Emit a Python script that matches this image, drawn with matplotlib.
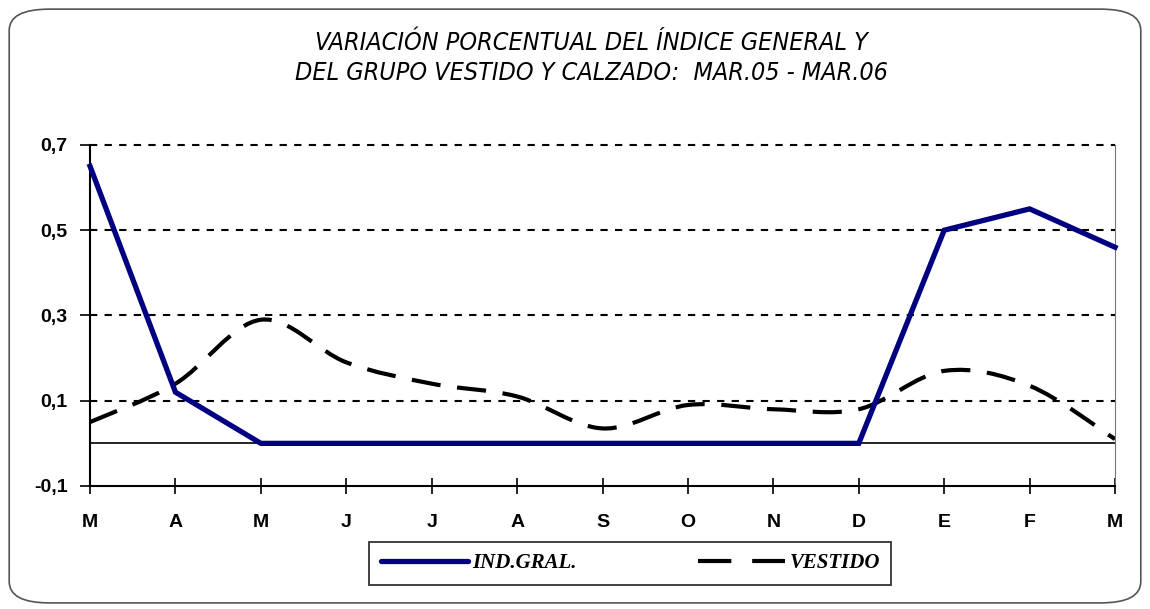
"""
Variación porcentual del índice general y del grupo vestido y calzado, mar.05 - mar.06.
"""

import numpy as np
import matplotlib

matplotlib.use("Agg")
import matplotlib.pyplot as plt
from matplotlib.path import Path
from matplotlib.patches import PathPatch, FancyBboxPatch
from matplotlib.lines import Line2D

months = ["M", "A", "M", "J", "J", "A", "S", "O", "N", "D", "E", "F", "M"]
ind_gral = [0.65, 0.12, 0.0, 0.0, 0.0, 0.0, 0.0, 0.0, 0.0, 0.0, 0.50, 0.55, 0.46]
vestido = [0.05, 0.14, 0.29, 0.19, 0.14, 0.11, 0.035, 0.09, 0.08, 0.08, 0.17, 0.135, 0.01]
y_ticks = [-0.1, 0.1, 0.3, 0.5, 0.7]
y_labels = ["-0,1", "0,1", "0,3", "0,5", "0,7"]

TITLE = "VARIACIÓN PORCENTUAL DEL ÍNDICE GENERAL Y\nDEL GRUPO VESTIDO Y CALZADO:  MAR.05 - MAR.06"
NAVY = "#000080"


def smooth_path(x, y):
    """Excel-style smoothed line as cubic Bezier segments."""
    pts = np.column_stack([x, y])
    verts = [pts[0]]
    codes = [Path.MOVETO]
    n = len(pts)
    for i in range(n - 1):
        p0 = pts[i - 1] if i > 0 else pts[i]
        p1, p2 = pts[i], pts[i + 1]
        p3 = pts[i + 2] if i + 2 < n else pts[i + 1]
        verts += [p1 + (p2 - p0) / 6, p2 - (p3 - p1) / 6, p2]
        codes += [Path.CURVE4] * 3
    return Path(verts, codes)


fig = plt.figure(figsize=(11.5, 6.09), dpi=100)
fig.patches.append(FancyBboxPatch((0.008, 0.01), 0.984, 0.975,
                                  boxstyle="round,pad=0,rounding_size=0.035",
                                  transform=fig.transFigure, fill=False,
                                  edgecolor="#555555", linewidth=1.2))

ax = fig.add_axes([0.0783, 0.202, 0.8913, 0.560])
x = np.arange(len(months))

for yv in [0.1, 0.3, 0.5, 0.7]:
    ax.axhline(yv, color="black", linewidth=1.5, dashes=(3.5, 3.5), zorder=3, clip_on=False)
ax.axhline(0, color="black", linewidth=1.2, zorder=1)

ax.add_patch(PathPatch(smooth_path(x, vestido), fill=False, edgecolor="black",
                       linewidth=3.0, linestyle=(0, (7, 4)), capstyle="butt", zorder=2))
ax.plot(x, ind_gral, color=NAVY, linewidth=3.8, solid_joinstyle="miter", zorder=4,
        clip_on=False)

ax.set_xlim(0, 12)
ax.set_ylim(-0.1, 0.7)
ax.set_xticks(x)
ax.set_xticklabels(months, fontsize=14, fontweight="bold", family="Liberation Sans")
ax.set_yticks(y_ticks)
ax.set_yticklabels(y_labels, fontsize=14, fontweight="bold", family="Liberation Sans")
ax.tick_params(axis="x", direction="inout", length=12, width=1.2, pad=14)
ax.tick_params(axis="y", direction="out", length=7, width=1.2, pad=9)

ax.spines["left"].set_linewidth(1.5)
ax.spines["bottom"].set_linewidth(1.5)
ax.spines["right"].set_color("#777777")
ax.spines["top"].set_visible(False)

fig.text(0.514, 0.905, TITLE, ha="center", va="center", fontsize=18, style="italic",
         family="DejaVu Sans", stretch="condensed", linespacing=1.3)

handles = [Line2D([], [], color=NAVY, linewidth=3.8, solid_capstyle="round"),
           Line2D([], [], color="black", linewidth=3.0, linestyle=(0, (8, 5)))]
leg = fig.legend(handles, ["IND.GRAL.", "VESTIDO"], loc="center", ncol=2,
                 bbox_to_anchor=(0.548, 0.075), frameon=True, fancybox=False,
                 handlelength=4.2, columnspacing=5.8, handletextpad=0.2,
                 borderpad=0.55, borderaxespad=0, prop={"family": "Liberation Serif",
                                                        "style": "italic",
                                                        "weight": "bold", "size": 15})
leg.get_frame().set_edgecolor("black")
leg.get_frame().set_linewidth(1.3)
fig.canvas.draw()
bb = leg.get_frame()
bb.set_x(bb.get_x() - 12)
bb.set_width(bb.get_width() + 24)

fig.savefig("out.png", dpi=100)
